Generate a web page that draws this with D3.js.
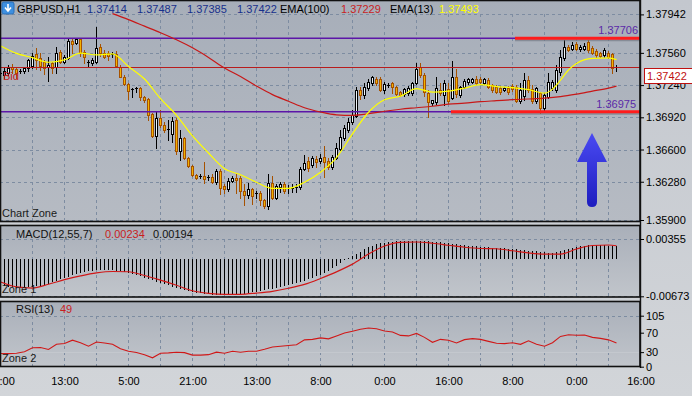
<!DOCTYPE html>
<html>
<head>
<meta charset="utf-8">
<script src="https://cdn.jsdelivr.net/npm/d3@7"></script>
<style>
  html, body { margin: 0; padding: 0; background: #c7cbd1; }
  svg { display: block; font-family: "Liberation Sans", Arial, sans-serif; font-size: 11px; }
</style>
</head>
<body>
<svg id="chart" width="692" height="396"></svg>
<script>
// ---- data ----
const opens = [
  1.3736,1.3734,1.3736,1.3742,1.3740,1.3738,1.3738,1.3741,1.3743,1.3755,
  1.3751,1.3747,1.3742,1.3746,1.3742,1.3757,1.3747,1.3751,1.3768,1.3766,
  1.3770,1.3757,1.3747,1.3746,1.3747,1.3762,1.3756,1.3756,1.3754,1.3755,
  1.3742,1.3732,1.3725,1.3720,1.3720,1.3721,1.3712,1.3710,1.3695,1.3673,
  1.3691,1.3684,1.3679,1.3675,1.3689,1.3659,1.3671,1.3652,1.3644,1.3635,
  1.3633,1.3634,1.3632,1.3633,1.3628,1.3639,1.3624,1.3621,1.3629,1.3632,
  1.3632,1.3619,1.3615,1.3621,1.3616,1.3617,1.3610,1.3604,1.3627,1.3612,
  1.3623,1.3626,1.3621,1.3622,1.3622,1.3623,1.3641,1.3649,1.3645,1.3651,
  1.3649,1.3653,1.3649,1.3643,1.3652,1.3661,1.3671,1.3679,1.3687,1.3693,
  1.3719,1.3714,1.3721,1.3726,1.3730,1.3730,1.3719,1.3724,1.3726,1.3722,
  1.3717,1.3715,1.3716,1.3716,1.3726,1.3742,1.3734,1.3716,1.3706,1.3707,
  1.3719,1.3714,1.3720,1.3711,1.3732,1.3714,1.3722,1.3727,1.3727,1.3730,
  1.3730,1.3726,1.3729,1.3724,1.3722,1.3721,1.3719,1.3721,1.3723,1.3722,
  1.3708,1.3713,1.3729,1.3720,1.3708,1.3716,1.3701,1.3712,1.3721,1.3719,
  1.3737,1.3751,1.3762,1.3760,1.3765,1.3760,1.3760,1.3767,1.3761,1.3758,
  1.3756,1.3754,1.3756,1.3755,1.3741
];
const highs = [
  1.3739,1.3741,1.3744,1.3745,1.3741,1.3740,1.3742,1.3750,1.3756,1.3761,
  1.3756,1.3749,1.3752,1.3747,1.3762,1.3759,1.3754,1.3771,1.3771,1.3771,
  1.3771,1.3759,1.3749,1.3751,1.3782,1.3765,1.3759,1.3758,1.3757,1.3758,
  1.3744,1.3734,1.3726,1.3721,1.3722,1.3722,1.3713,1.3711,1.3696,1.3698,
  1.3699,1.3687,1.3689,1.3692,1.3691,1.3679,1.3672,1.3653,1.3645,1.3636,
  1.3636,1.3648,1.3635,1.3636,1.3641,1.3641,1.3626,1.3632,1.3634,1.3636,
  1.3634,1.3626,1.3627,1.3622,1.3619,1.3619,1.3611,1.3636,1.3634,1.3626,
  1.3628,1.3628,1.3625,1.3626,1.3626,1.3643,1.3655,1.3653,1.3654,1.3654,
  1.3656,1.3663,1.3652,1.3655,1.3666,1.3679,1.3684,1.3691,1.3699,1.3722,
  1.3722,1.3726,1.3730,1.3733,1.3732,1.3732,1.3727,1.3726,1.3727,1.3723,
  1.3718,1.3721,1.3723,1.3727,1.3746,1.3746,1.3736,1.3719,1.3709,1.3732,
  1.3726,1.3729,1.3726,1.3748,1.3740,1.3723,1.3730,1.3731,1.3731,1.3733,
  1.3732,1.3731,1.3731,1.3725,1.3724,1.3723,1.3722,1.3723,1.3725,1.3724,
  1.3726,1.3736,1.3733,1.3724,1.3722,1.3717,1.3716,1.3736,1.3729,1.3744,
  1.3759,1.3769,1.3764,1.3767,1.3767,1.3764,1.3766,1.3769,1.3763,1.3760,
  1.3757,1.3761,1.3758,1.3756,1.3744
];
const lows = [
  1.3733,1.3731,1.3734,1.3736,1.3731,1.3736,1.3736,1.3738,1.3741,1.3740,
  1.3739,1.3735,1.3728,1.3736,1.3736,1.3746,1.3746,1.3750,1.3756,1.3765,
  1.3753,1.3746,1.3743,1.3744,1.3746,1.3753,1.3751,1.3749,1.3752,1.3742,
  1.3732,1.3724,1.3710,1.3712,1.3717,1.3709,1.3707,1.3689,1.3672,1.3662,
  1.3682,1.3677,1.3669,1.3667,1.3656,1.3650,1.3651,1.3643,1.3634,1.3631,
  1.3632,1.3627,1.3630,1.3627,1.3626,1.3616,1.3617,1.3619,1.3628,1.3617,
  1.3612,1.3605,1.3612,1.3606,1.3612,1.3605,1.3602,1.3601,1.3611,1.3611,
  1.3618,1.3617,1.3617,1.3618,1.3618,1.3621,1.3640,1.3639,1.3643,1.3643,
  1.3647,1.3633,1.3641,1.3641,1.3651,1.3660,1.3669,1.3677,1.3685,1.3692,
  1.3710,1.3711,1.3719,1.3724,1.3724,1.3718,1.3716,1.3722,1.3716,1.3714,
  1.3713,1.3713,1.3714,1.3714,1.3725,1.3732,1.3713,1.3692,1.3704,1.3705,
  1.3714,1.3704,1.3706,1.3710,1.3712,1.3712,1.3721,1.3725,1.3726,1.3725,
  1.3726,1.3725,1.3721,1.3717,1.3716,1.3715,1.3718,1.3715,1.3718,1.3707,
  1.3706,1.3709,1.3717,1.3706,1.3706,1.3696,1.3698,1.3711,1.3719,1.3717,
  1.3734,1.3749,1.3758,1.3759,1.3759,1.3758,1.3759,1.3757,1.3755,1.3752,
  1.3752,1.3752,1.3751,1.3736,1.3738
];
const closes = [
  1.3736,1.3738,1.3741,1.3740,1.3736,1.3738,1.3741,1.3749,1.3753,1.3749,
  1.3743,1.3741,1.3744,1.3741,1.3756,1.3747,1.3752,1.3768,1.3765,1.3770,
  1.3756,1.3752,1.3747,1.3749,1.3761,1.3756,1.3752,1.3753,1.3755,1.3743,
  1.3732,1.3725,1.3718,1.3720,1.3721,1.3712,1.3709,1.3694,1.3673,1.3691,
  1.3684,1.3679,1.3680,1.3688,1.3659,1.3671,1.3652,1.3644,1.3635,1.3632,
  1.3634,1.3631,1.3633,1.3628,1.3639,1.3622,1.3621,1.3629,1.3632,1.3630,
  1.3619,1.3615,1.3621,1.3614,1.3617,1.3610,1.3604,1.3627,1.3612,1.3624,
  1.3626,1.3619,1.3622,1.3622,1.3623,1.3641,1.3647,1.3642,1.3652,1.3648,
  1.3652,1.3648,1.3643,1.3653,1.3662,1.3672,1.3681,1.3687,1.3694,1.3719,
  1.3714,1.3722,1.3727,1.3732,1.3726,1.3719,1.3725,1.3724,1.3722,1.3715,
  1.3714,1.3720,1.3721,1.3726,1.3740,1.3734,1.3717,1.3707,1.3709,1.3721,
  1.3716,1.3726,1.3708,1.3732,1.3715,1.3722,1.3728,1.3730,1.3730,1.3726,
  1.3727,1.3730,1.3722,1.3719,1.3717,1.3717,1.3721,1.3717,1.3720,1.3708,
  1.3719,1.3729,1.3719,1.3708,1.3721,1.3701,1.3714,1.3727,1.3727,1.3739,
  1.3752,1.3762,1.3759,1.3764,1.3760,1.3762,1.3763,1.3759,1.3756,1.3754,
  1.3753,1.3759,1.3752,1.3741,1.37422
];

const ema13Bars = [0,4,8,12,16,20,24,28,32,36,40,44,48,52,56,60,64,68,72,76,80,84,88,92,96,100,
  104,108,112,116,120,124,128,132,136,138,140,142,144,148,152,154];
const ema13 = [1.3763,1.37555,1.37512,1.37467,1.3749,1.37557,1.3754,1.3755,1.37425,1.373,1.37105,
  1.3694,1.36735,1.36565,1.3641,1.3635,1.36275,1.36215,1.36215,1.36275,1.36375,1.3652,1.36755,
  1.3697,1.37095,1.3713,1.37205,1.3717,1.3718,1.3721,1.37245,1.37225,1.37215,1.37195,1.3716,
  1.372,1.3729,1.3739,1.37455,1.37505,1.3751,1.37493];

const ema100Bars = [28,32,36,40,44,48,52,56,60,64,68,72,76,80,84,88,92,96,100,104,108,112,116,
  120,124,128,132,136,140,144,148,152,154];
const ema100 = [1.3795,1.3789,1.37825,1.3776,1.3769,1.3761,1.37515,1.3741,1.37325,1.3723,1.37145,
  1.3708,1.37015,1.36973,1.36945,1.3694,1.36955,1.3698,1.37,1.37015,1.3703,1.3705,1.3706,1.37075,
  1.37085,1.37095,1.37102,1.3711,1.37125,1.3715,1.3718,1.3721,1.37229];

const macdMain = [
  -0.00475,-0.00493,-0.00505,-0.00514,-0.00520,-0.00520,-0.00516,-0.00511,-0.00505,-0.00493,
  -0.00482,-0.00466,-0.00446,-0.00417,-0.00390,-0.00361,-0.00341,-0.00320,-0.00298,-0.00276,
  -0.00258,-0.00240,-0.00228,-0.00219,-0.00210,-0.00204,-0.00202,-0.00204,-0.00208,-0.00215,
  -0.00224,-0.00237,-0.00253,-0.00271,-0.00292,-0.00316,-0.00338,-0.00359,-0.00383,-0.00408,
  -0.00433,-0.00455,-0.00476,-0.00498,-0.00520,-0.00540,-0.00558,-0.00576,-0.00592,-0.00606,
  -0.00619,-0.00628,-0.00635,-0.00641,-0.00644,-0.00646,-0.00648,-0.00646,-0.00644,-0.00641,
  -0.00635,-0.00626,-0.00615,-0.00603,-0.00590,-0.00577,-0.00565,-0.00550,-0.00536,-0.00521,
  -0.00507,-0.00489,-0.00471,-0.00455,-0.00437,-0.00419,-0.00393,-0.00366,-0.00338,-0.00310,
  -0.00282,-0.00247,-0.00213,-0.00173,-0.00123,-0.00069,-0.00024,0.00009,0.00045,0.00085,
  0.00130,0.00169,0.00205,0.00236,0.00259,0.00277,0.00292,0.00303,0.00310,0.00317,
  0.00321,0.00324,0.00326,0.00326,0.00324,0.00321,0.00319,0.00314,0.00310,0.00305,
  0.00299,0.00292,0.00283,0.00274,0.00265,0.00256,0.00247,0.00238,0.00229,0.00222,
  0.00214,0.00209,0.00205,0.00202,0.00196,0.00193,0.00189,0.00184,0.00176,0.00169,
  0.00162,0.00155,0.00146,0.00139,0.00131,0.00124,0.00117,0.00112,0.00110,0.00117,
  0.00135,0.00153,0.00178,0.00202,0.00218,0.00229,0.00238,0.00243,0.00247,0.00247,
  0.00247,0.00243,0.00238,0.00232,0.00229
];
const signalBars = [0,4,8,12,16,20,24,28,32,36,40,44,48,52,56,60,64,68,72,76,80,84,88,92,96,100,
  104,108,112,116,120,124,128,132,136,140,144,148,152,154];
const signal = [-0.00417,-0.00505,-0.00525,-0.00457,-0.00375,-0.00307,-0.00253,-0.00228,-0.00233,
  -0.00300,-0.00384,-0.00475,-0.00574,-0.00619,-0.00637,-0.00637,-0.00615,-0.00583,-0.00529,
  -0.00460,-0.00354,-0.00235,-0.00096,0.00085,0.00229,0.00295,0.00301,0.00279,0.00243,0.00207,
  0.00185,0.00180,0.00144,0.00106,0.00085,0.00085,0.00175,0.00238,0.00247,0.00234];

// RSI, one reading every second bar (bars 0, 2, ... 154)
const rsi = [27.2,27,27.8,30.9,39,39.4,35.4,46.1,47.6,54.7,49.2,42.1,50.8,48.8,46.1,37,31.9,29.3,
  24.8,18.3,27.8,28.5,29.9,28.9,23.8,23.8,24.8,29.9,27.8,31.9,29.9,31.9,31.9,36,40.7,42.1,43.7,
  45.1,55.3,56.3,59.3,57.3,63.4,69.5,73,77.2,79.7,78.3,73.6,71.5,64.4,63.4,68.5,60.4,50.2,56.3,
  54.3,48.8,55.7,57.7,56.3,52.2,48.2,47.6,49.2,46.1,53.3,46.1,42.1,49.2,62.4,65.9,64.8,65.4,
  60.4,58.3,55.3,49];

const priceTicks = [1.37942, 1.37560, 1.37240, 1.36920, 1.36600, 1.36280, 1.35900];
const macdTicks = [0.00355, -0.00673];
const rsiTicks = [105, 70, 30, 0];
const timeBars = [0,16,32,48,64,80,96,112,128,144,160];
const timeLabels = ["21:00","13:00","5:00","21:00","13:00","8:00","0:00","16:00","8:00","0:00","16:00"];

const lastPrice = 1.37422;
const levels = [1.37706, 1.36975];
const header = ["1.37414","1.37487","1.37385","1.37422"];

// ---- layout ----
const svg = d3.select("#chart");
const plotR = 640;
const x = d3.scaleLinear().domain([0, 160]).range([0.5, 640.5]);
const yMain = d3.scaleLinear().domain([1.359, 1.37942]).range([220, 14.4]);
const yMacd = d3.scaleLinear().domain([-0.00673, 0.00355]).range([296.3, 239]);
const yRsi = d3.scaleLinear().domain([0, 105]).range([366.7, 315.7]);

const defs = svg.append("defs");
function vgrad(id, a, b) {
  const g = defs.append("linearGradient").attr("id", id).attr("x1", 0).attr("y1", 0).attr("x2", 0).attr("y2", 1);
  g.append("stop").attr("offset", "0%").attr("stop-color", a);
  g.append("stop").attr("offset", "100%").attr("stop-color", b);
}
vgrad("bgG", "#c3c7ce", "#d2d5d9");
vgrad("mainG", "#a7aeb9", "#b6bbc3");
vgrad("subG", "#a9afb9", "#c1c5cb");
vgrad("arrowG", "#4a4af2", "#1d1dbf");

svg.append("rect").attr("width", 692).attr("height", 396).attr("fill", "url(#bgG)");

const panels = [
  { id: "main", y0: 0, y1: 222, fill: "url(#mainG)" },
  { id: "macd", y0: 225, y1: 297.5, fill: "url(#subG)" },
  { id: "rsi", y0: 301, y1: 367, fill: "url(#subG)" }
];
panels.forEach(p => {
  svg.append("rect").attr("x", 0).attr("y", p.y0).attr("width", plotR).attr("height", p.y1 - p.y0)
    .attr("fill", p.fill);
  defs.append("clipPath").attr("id", "clip-" + p.id).append("rect")
    .attr("x", 1).attr("y", p.y0 + 1).attr("width", plotR - 1).attr("height", p.y1 - p.y0 - 1);
});

// grid
const grid = svg.append("g").attr("stroke", "#7d8ca1").attr("stroke-dasharray", "3,3")
  .attr("shape-rendering", "crispEdges");
const gridSpans = [[yMain(1.37942), yMain(1.359)], [yMacd(0.00355), 297], [yRsi(105), 367]];
d3.range(8, 160, 8).forEach(b => {
  gridSpans.forEach(s => {
    grid.append("line").attr("x1", x(b)).attr("x2", x(b)).attr("y1", s[0]).attr("y2", s[1]);
  });
});
priceTicks.forEach(t => grid.append("line").attr("x1", 0).attr("x2", plotR)
  .attr("y1", Math.round(yMain(t)) + 0.5).attr("y2", Math.round(yMain(t)) + 0.5));
macdTicks.forEach(t => grid.append("line").attr("x1", 0).attr("x2", plotR)
  .attr("y1", Math.round(yMacd(t)) + 0.5).attr("y2", Math.round(yMacd(t)) + 0.5));
grid.append("line").attr("x1", 0).attr("x2", plotR)
  .attr("y1", Math.round(yRsi(105)) + 0.5).attr("y2", Math.round(yRsi(105)) + 0.5);
svg.append("line").attr("x1", 0).attr("x2", plotR)
  .attr("y1", Math.round(yRsi(30)) + 0.5).attr("y2", Math.round(yRsi(30)) + 0.5)
  .attr("stroke", "#c4c8ce").attr("stroke-width", 1);

// ---- main chart ----
const main = svg.append("g").attr("clip-path", "url(#clip-main)");
const candles = opens.map((o, i) => ({ i, o, h: highs[i], l: lows[i], c: closes[i] }));
const bull = "#000000", bearLine = "#a65200";

const cg = main.append("g").attr("shape-rendering", "crispEdges");
cg.selectAll("line.wick").data(candles).join("line")
  .attr("class", "wick")
  .attr("x1", d => x(d.i)).attr("x2", d => x(d.i))
  .attr("y1", d => Math.round(yMain(d.h))).attr("y2", d => Math.round(yMain(d.l)) + 1)
  .attr("stroke", d => d.c < d.o ? bearLine : bull);

candles.forEach(d => {
  const top = Math.round(yMain(Math.max(d.o, d.c)));
  const bot = Math.round(yMain(Math.min(d.o, d.c)));
  const col = d.c < d.o ? bearLine : bull;
  if (bot - top <= 1) {
    cg.append("line").attr("x1", x(d.i) - 1.5).attr("x2", x(d.i) + 1.5)
      .attr("y1", top + 0.5).attr("y2", top + 0.5).attr("stroke", col);
  } else {
    cg.append("rect").attr("x", x(d.i) - 1).attr("width", 2)
      .attr("y", top + 0.5).attr("height", bot - top)
      .attr("fill", d.c < d.o ? "#f2b300" : "#eef3f7").attr("stroke", col);
  }
});

// horizontal levels
levels.forEach(v => {
  main.append("line").attr("x1", 0).attr("x2", plotR).attr("y1", yMain(v)).attr("y2", yMain(v))
    .attr("stroke", "#5c16a8").attr("stroke-width", 1.5);
});
main.append("line").attr("x1", 0).attr("x2", plotR)
  .attr("y1", Math.round(yMain(lastPrice)) + 0.5).attr("y2", Math.round(yMain(lastPrice)) + 0.5)
  .attr("stroke", "#b81c1c").attr("stroke-width", 1);

// moving averages
const ema100Line = d3.line().x((d, j) => x(ema100Bars[j])).y(d => yMain(d)).curve(d3.curveMonotoneX);
const ema13Line = d3.line().x((d, j) => x(ema13Bars[j])).y(d => yMain(d)).curve(d3.curveMonotoneX);
main.append("path").attr("d", ema100Line(ema100)).attr("fill", "none")
  .attr("stroke", "#c81818").attr("stroke-width", 1.2);
main.append("path").attr("d", ema13Line(ema13)).attr("fill", "none")
  .attr("stroke", "#ffff00").attr("stroke-width", 1.2);

// thick red trend segments with a soft shadow
[[515, levels[0]], [451, levels[1]]].forEach(([x0, v]) => {
  main.append("line").attr("x1", x0).attr("x2", plotR).attr("y1", yMain(v) + 2).attr("y2", yMain(v) + 2)
    .attr("stroke", "#6f7580").attr("stroke-width", 2).attr("opacity", 0.6);
  main.append("line").attr("x1", x0).attr("x2", plotR).attr("y1", yMain(v)).attr("y2", yMain(v))
    .attr("stroke", "#ff1c1c").attr("stroke-width", 3);
});
main.append("text").attr("x", 638).attr("y", yMain(levels[0]) - 4).attr("text-anchor", "end")
  .attr("fill", "#5b2aa8").text(levels[0].toFixed(5));
main.append("text").attr("x", 636).attr("y", yMain(levels[1]) - 4).attr("text-anchor", "end")
  .attr("fill", "#5b2aa8").text(levels[1].toFixed(5));

// blue arrow
main.append("path")
  .attr("d", "M592,133 L607,162 L597,162 L597,202 Q597,207 592,207 Q587,207 587,202 L587,162 L577,162 Z")
  .attr("fill", "url(#arrowG)");

main.append("text").attr("x", 3).attr("y", 80).attr("fill", "#c41c1c").text("Bid");
svg.append("text").attr("x", 2).attr("y", 217).attr("fill", "#1a1a1a").text("Chart Zone");

// ---- MACD ----
const macdG = svg.append("g").attr("clip-path", "url(#clip-macd)");
macdG.append("g").attr("shape-rendering", "crispEdges").selectAll("line").data(macdMain).join("line")
  .attr("x1", (d, i) => x(i)).attr("x2", (d, i) => x(i))
  .attr("y1", yMacd(0)).attr("y2", d => yMacd(d))
  .attr("stroke", "#000").attr("stroke-width", 1);
const sigLine = d3.line().x((d, j) => x(signalBars[j])).y(d => yMacd(d)).curve(d3.curveMonotoneX);
macdG.append("path").attr("d", sigLine(signal)).attr("fill", "none")
  .attr("stroke", "#d01818").attr("stroke-width", 1.2);
svg.append("text").attr("x", 16).attr("y", 237.5).attr("fill", "#111").text("MACD(12,55,7)");
svg.append("text").attr("x", 105).attr("y", 237.5).attr("fill", "#c81e1e").text("0.00234");
svg.append("text").attr("x", 153).attr("y", 237.5).attr("fill", "#111").text("0.00194");
svg.append("text").attr("x", 2).attr("y", 293).attr("fill", "#1a1a1a").text("Zone 1");

// ---- RSI ----
const rsiG = svg.append("g").attr("clip-path", "url(#clip-rsi)");
const rsiLine = d3.line().x((d, j) => x(j * 2)).y(d => yRsi(d));
rsiG.append("path").attr("d", rsiLine(rsi)).attr("fill", "none")
  .attr("stroke", "#d01818").attr("stroke-width", 1.1);
svg.append("text").attr("x", 16).attr("y", 313).attr("fill", "#111").text("RSI(13)");
svg.append("text").attr("x", 60).attr("y", 313).attr("fill", "#c81e1e").text("49");
svg.append("text").attr("x", 2).attr("y", 362).attr("fill", "#1a1a1a").text("Zone 2");

// panel borders
panels.forEach(p => {
  svg.append("rect").attr("x", 0.5).attr("y", p.y0 + 0.5).attr("width", plotR - 0.5)
    .attr("height", p.y1 - p.y0 - 1).attr("fill", "none").attr("stroke", "#111").attr("stroke-width", 1.6);
});
svg.append("line").attr("x1", plotR + 0.5).attr("x2", plotR + 0.5).attr("y1", 0).attr("y2", 368)
  .attr("stroke", "#111").attr("stroke-width", 1.4);

// ---- axes ----
function styleAxis(g) {
  g.select(".domain").remove();
  g.selectAll("text").attr("font-size", 11).attr("font-family", "Liberation Sans, Arial, sans-serif")
    .attr("fill", "#000");
  g.selectAll("line").attr("stroke", "#000");
}
svg.append("g").attr("transform", `translate(${plotR},0)`)
  .call(d3.axisRight(yMain).tickValues(priceTicks).tickSize(4).tickPadding(2).tickFormat(d => d.toFixed(5)))
  .call(styleAxis);
svg.append("g").attr("transform", `translate(${plotR},0)`)
  .call(d3.axisRight(yMacd).tickValues(macdTicks).tickSize(4).tickPadding(2).tickFormat(d => d.toFixed(5)))
  .call(styleAxis);
svg.append("g").attr("transform", `translate(${plotR},0)`)
  .call(d3.axisRight(yRsi).tickValues(rsiTicks).tickSize(4).tickPadding(2).tickFormat(d3.format("d")))
  .call(styleAxis);
svg.append("g").attr("transform", "translate(0,368)")
  .call(d3.axisBottom(x).tickValues(timeBars).tickSize(0).tickPadding(9).tickFormat((d, i) => timeLabels[i]))
  .call(styleAxis);

// last price box
const ly = Math.round(yMain(lastPrice));
svg.append("rect").attr("x", 644.5).attr("y", ly + 1.5).attr("width", 50).attr("height", 15)
  .attr("fill", "#fff").attr("stroke", "#c01010");
svg.append("text").attr("x", 647).attr("y", ly + 13).attr("fill", "#c01010").text(lastPrice.toFixed(5));

// ---- header ----
const hd = svg.append("g");
hd.append("rect").attr("x", 2).attr("y", 2).attr("width", 12).attr("height", 12).attr("rx", 2)
  .attr("fill", "#3d8fe0").attr("stroke", "#2a6fb8");
hd.append("path").attr("d", "M8,4 L8,10 M5,7.5 L8,11 L11,7.5").attr("stroke", "#fff")
  .attr("stroke-width", 1.6).attr("fill", "none");
hd.append("text").attr("x", 17).attr("y", 13).attr("fill", "#000").text("GBPUSD,H1");
[87, 137, 187, 237].forEach((px, i) =>
  hd.append("text").attr("x", px).attr("y", 13).attr("fill", "#17308c").text(header[i]));
hd.append("text").attr("x", 280).attr("y", 13).attr("fill", "#000").text("EMA(100)");
hd.append("text").attr("x", 341).attr("y", 13).attr("fill", "#c81e1e").text(ema100[ema100.length - 1].toFixed(5));
hd.append("text").attr("x", 390).attr("y", 13).attr("fill", "#000").text("EMA(13)");
hd.append("text").attr("x", 439).attr("y", 13).attr("fill", "#ffff00").text(ema13[ema13.length - 1].toFixed(5));
</script>
</body>
</html>
